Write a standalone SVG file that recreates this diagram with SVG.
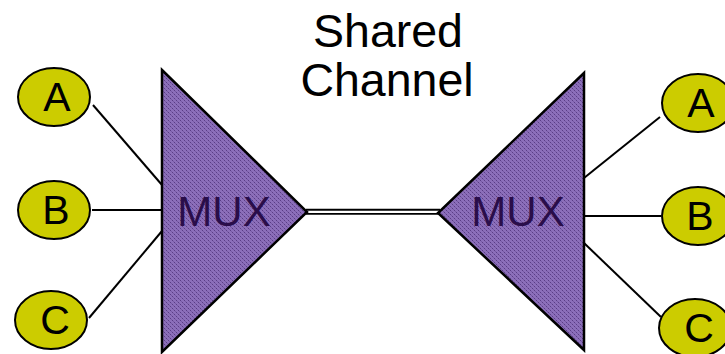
<svg xmlns="http://www.w3.org/2000/svg" width="725" height="354" viewBox="0 0 725 354">
  <defs>
    <!-- fine purple dotted fill for the multiplexers -->
    <pattern id="muxFill" width="4" height="4" patternUnits="userSpaceOnUse">
      <rect width="4" height="4" fill="#8c6fba"/>
      <rect x="0" y="0" width="1" height="1" fill="#5a3d86"/>
      <rect x="2" y="2" width="1" height="1" fill="#5a3d86"/>
      <rect x="1" y="1" width="1" height="1" fill="#765aa4"/>
      <rect x="3" y="3" width="1" height="1" fill="#765aa4"/>
    </pattern>
  </defs>
  <style>
    .mux { fill: url(#muxFill); stroke: #000; stroke-width: 2.5; stroke-linejoin: miter; }
    .muxlabel { font-family: "Liberation Sans", Arial, sans-serif; font-size: 42px; fill: #2a0d4a; text-anchor: middle; }
    .port ellipse { fill: #cccc00; stroke: #000; stroke-width: 2; }
    .port text { font-family: "Liberation Sans", Arial, sans-serif; font-size: 41px; fill: #000; text-anchor: middle; }
    .wire { stroke: #000; stroke-width: 2; fill: none; }
    .title { font-family: "Liberation Sans", Arial, sans-serif; font-size: 46.5px; fill: #000; text-anchor: middle; }
  </style>

  <rect width="725" height="354" fill="#fff"/>

  <text class="title" x="388" y="47">Shared</text>
  <text class="title" x="387" y="96">Channel</text>

  <!-- connectors -->
  <g id="connectors">
    <line class="wire" x1="93" y1="105" x2="162" y2="185"/>
    <line class="wire" x1="92" y1="210" x2="162" y2="210"/>
    <line class="wire" x1="89" y1="318" x2="162" y2="231"/>
    <line class="wire" x1="584" y1="178" x2="660" y2="117"/>
    <line class="wire" x1="584" y1="216" x2="661" y2="216"/>
    <line class="wire" x1="584" y1="243" x2="661" y2="317"/>
    <!-- shared channel: double line -->
    <line x1="306" y1="211.8" x2="440" y2="211.8" stroke="#000" stroke-width="6"/>
    <line x1="306" y1="211.8" x2="440" y2="211.8" stroke="#fff" stroke-width="2.2"/>
  </g>

  <g id="mux-left">
    <polygon class="mux" points="162,70 307,212 162,352"/>
    <text class="muxlabel" x="224" y="226">MUX</text>
  </g>
  <g id="mux-right">
    <polygon class="mux" points="584,73 438,213 584,350"/>
    <text class="muxlabel" x="518" y="226">MUX</text>
  </g>

  <g id="left-a" class="port">
    <ellipse cx="54" cy="97" rx="36" ry="29"/>
    <text x="57" y="111">A</text>
  </g>
  <g id="left-b" class="port">
    <ellipse cx="54" cy="210" rx="36" ry="29"/>
    <text x="56" y="224">B</text>
  </g>
  <g id="left-c" class="port">
    <ellipse cx="51" cy="320" rx="36" ry="29"/>
    <text x="55" y="334">C</text>
  </g>
  <g id="right-a" class="port">
    <ellipse cx="698" cy="103" rx="36" ry="29"/>
    <text x="701" y="117">A</text>
  </g>
  <g id="right-b" class="port">
    <ellipse cx="698" cy="216" rx="36" ry="29"/>
    <text x="700" y="230">B</text>
  </g>
  <g id="right-c" class="port">
    <ellipse cx="695" cy="328" rx="36" ry="29"/>
    <text x="699" y="342">C</text>
  </g>
</svg>
